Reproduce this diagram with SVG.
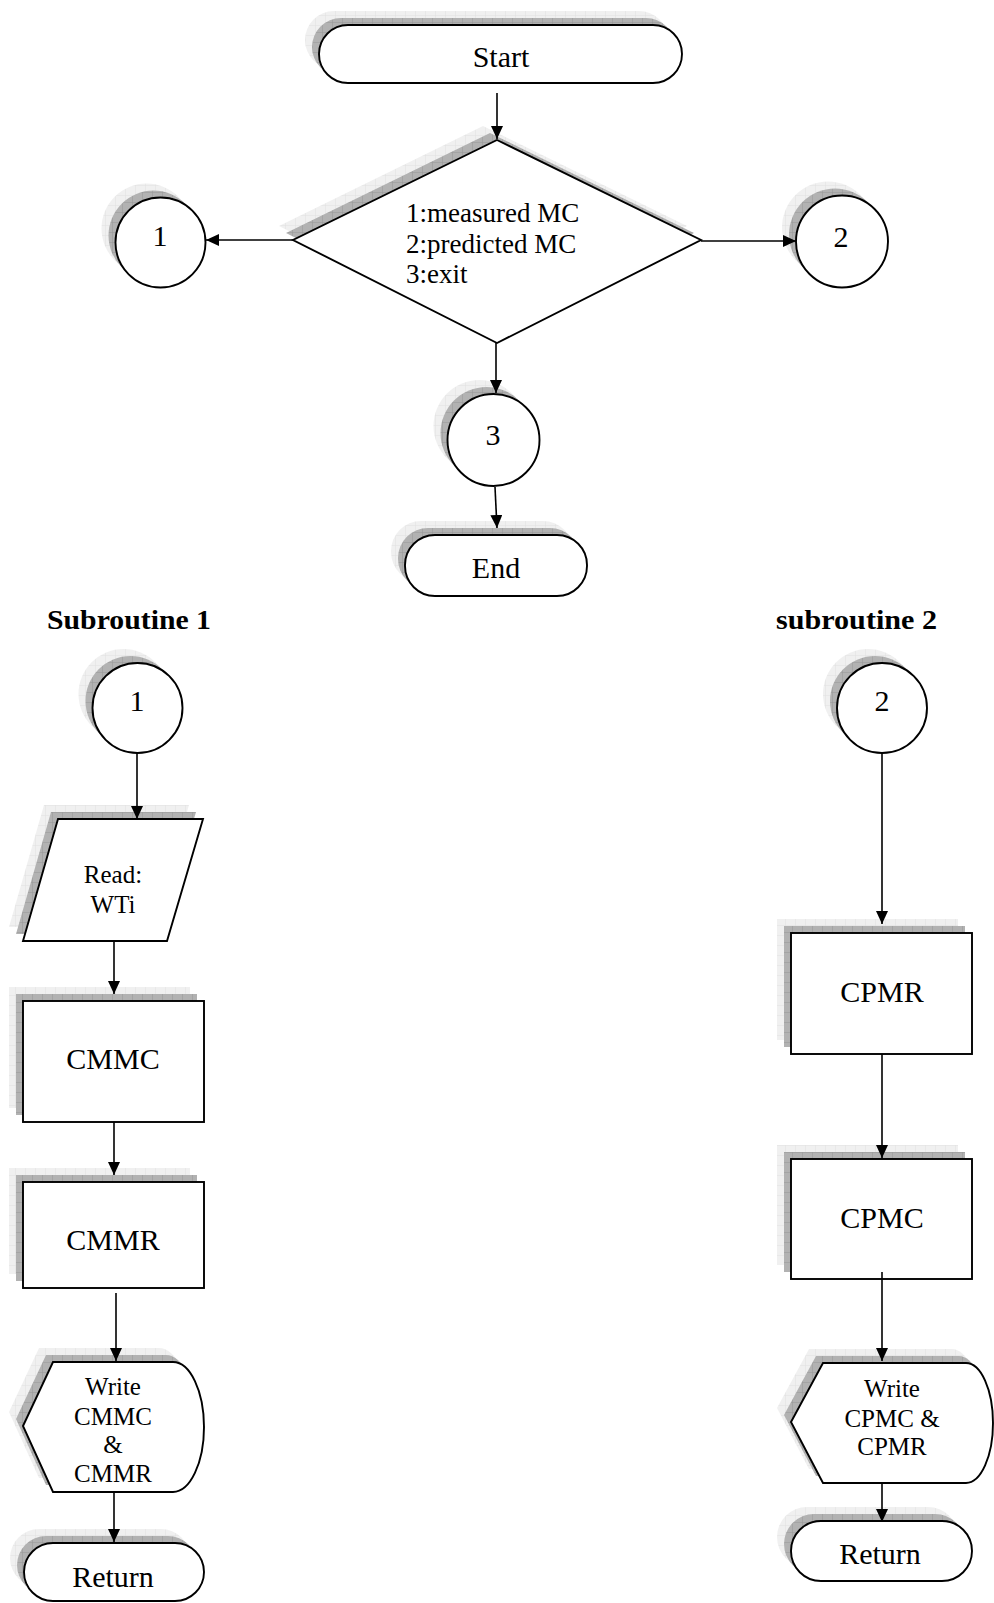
<svg xmlns="http://www.w3.org/2000/svg" xmlns:xlink="http://www.w3.org/1999/xlink" width="994" height="1603" viewBox="0 0 994 1603">
<defs>
<pattern id="pl" width="10" height="10" patternUnits="userSpaceOnUse"><rect width="10" height="10" fill="#f0f0f0"/><path d="M10 0V10H0" fill="none" stroke="#e0e0e0" stroke-width="1"/></pattern>
<pattern id="pd" width="10" height="10" patternUnits="userSpaceOnUse"><rect width="10" height="10" fill="#b2b2b2"/><path d="M10 0V10H0" fill="none" stroke="#979797" stroke-width="1"/></pattern>
<marker id="ah" markerWidth="13" markerHeight="12" refX="13" refY="6" orient="auto" markerUnits="userSpaceOnUse"><path d="M0,0 L13,6 L0,12 Z" fill="#000"/></marker>
<rect id="s-start" x="319" y="25" width="363" height="58" rx="29"/>
<polygon id="s-dec" points="497,140 701,240 497,343 293,240"/>
<circle id="s-c1" cx="160.5" cy="242.5" r="45"/>
<circle id="s-c2" cx="842" cy="241.5" r="46"/>
<circle id="s-c3" cx="493.5" cy="440" r="46"/>
<rect id="s-end" x="405" y="535" width="182" height="61" rx="30"/>
<circle id="s-s1" cx="137.5" cy="708" r="45"/>
<polygon id="s-read" points="58,819 203,819 167,941 23,941"/>
<rect id="s-cmmc" x="23" y="1001" width="181" height="121"/>
<rect id="s-cmmr" x="23" y="1182" width="181" height="106"/>
<path id="s-w1" d="M23,1426 L53,1362 L173,1362 A31,65 0 0 1 173,1492 L53,1492 Z"/>
<rect id="s-r1" x="24" y="1543" width="180" height="58" rx="29"/>
<circle id="s-s2" cx="882" cy="708" r="45"/>
<rect id="s-cpmr" x="791" y="933" width="181" height="121"/>
<rect id="s-cpmc" x="791" y="1159" width="181" height="120"/>
<path id="s-w2" d="M791,1422 L823,1363 L966,1363 A27,60 0 0 1 966,1483 L823,1483 Z"/>
<rect id="s-r2" x="791" y="1521" width="181" height="60" rx="30"/>
</defs>
<style>
.sl{fill:url(#pl);stroke:none}
.sd{fill:url(#pd);stroke:none}
.sh{fill:#fff;stroke:#000;stroke-width:1.9}
.t{font-family:"Liberation Serif","Times New Roman",serif;fill:#000;text-anchor:middle}
.big{font-size:30px}
.mid{font-size:27px}
.sm{font-size:25px}
.hd{font-size:27px;font-weight:bold;text-anchor:start}
.conn line{stroke:#000;stroke-width:1.6;fill:none;marker-end:url(#ah)}
</style>
<rect width="994" height="1603" fill="#fff"/>

<g id="node-start">
<use xlink:href="#s-start" href="#s-start" class="sl" transform="translate(-14,-14)"/>
<use xlink:href="#s-start" href="#s-start" class="sd" transform="translate(-7,-7)"/>
<use xlink:href="#s-start" href="#s-start" class="sh"/>
<text class="t big" x="501" y="67">Start</text>
</g>

<g id="node-decision">
<use xlink:href="#s-dec" href="#s-dec" class="sl" transform="translate(-14,-14)"/>
<use xlink:href="#s-dec" href="#s-dec" class="sd" transform="translate(-7,-7)"/>
<use xlink:href="#s-dec" href="#s-dec" class="sh"/>
<text class="t mid" x="406" y="222" style="text-anchor:start">1:measured MC</text>
<text class="t mid" x="406" y="253" style="text-anchor:start">2:predicted MC</text>
<text class="t mid" x="406" y="283" style="text-anchor:start">3:exit</text>
</g>

<g id="node-c1">
<use xlink:href="#s-c1" href="#s-c1" class="sl" transform="translate(-14,-14)"/>
<use xlink:href="#s-c1" href="#s-c1" class="sd" transform="translate(-7,-7)"/>
<use xlink:href="#s-c1" href="#s-c1" class="sh"/>
<text class="t big" x="160" y="246">1</text>
</g>

<g id="node-c2">
<use xlink:href="#s-c2" href="#s-c2" class="sl" transform="translate(-14,-14)"/>
<use xlink:href="#s-c2" href="#s-c2" class="sd" transform="translate(-7,-7)"/>
<use xlink:href="#s-c2" href="#s-c2" class="sh"/>
<text class="t big" x="841" y="247">2</text>
</g>

<g id="node-c3">
<use xlink:href="#s-c3" href="#s-c3" class="sl" transform="translate(-14,-14)"/>
<use xlink:href="#s-c3" href="#s-c3" class="sd" transform="translate(-7,-7)"/>
<use xlink:href="#s-c3" href="#s-c3" class="sh"/>
<text class="t big" x="493" y="445">3</text>
</g>

<g id="node-end">
<use xlink:href="#s-end" href="#s-end" class="sl" transform="translate(-14,-14)"/>
<use xlink:href="#s-end" href="#s-end" class="sd" transform="translate(-7,-7)"/>
<use xlink:href="#s-end" href="#s-end" class="sh"/>
<text class="t big" x="496" y="578">End</text>
</g>

<g id="heading-1">
<text class="t hd" x="47" y="629" textLength="164" lengthAdjust="spacingAndGlyphs">Subroutine 1</text>
</g>
<g id="heading-2">
<text class="t hd" x="776" y="629" textLength="161" lengthAdjust="spacingAndGlyphs">subroutine 2</text>
</g>

<g id="node-s1">
<use xlink:href="#s-s1" href="#s-s1" class="sl" transform="translate(-14,-14)"/>
<use xlink:href="#s-s1" href="#s-s1" class="sd" transform="translate(-7,-7)"/>
<use xlink:href="#s-s1" href="#s-s1" class="sh"/>
<text class="t big" x="137" y="711">1</text>
</g>

<g id="node-read">
<use xlink:href="#s-read" href="#s-read" class="sl" transform="translate(-14,-14)"/>
<use xlink:href="#s-read" href="#s-read" class="sd" transform="translate(-7,-7)"/>
<use xlink:href="#s-read" href="#s-read" class="sh"/>
<text class="t sm" x="113" y="883">Read:</text>
<text class="t sm" x="113" y="913">WTi</text>
</g>

<g id="node-cmmc">
<use xlink:href="#s-cmmc" href="#s-cmmc" class="sl" transform="translate(-14,-14)"/>
<use xlink:href="#s-cmmc" href="#s-cmmc" class="sd" transform="translate(-7,-7)"/>
<use xlink:href="#s-cmmc" href="#s-cmmc" class="sh"/>
<text class="t big" x="113" y="1069">CMMC</text>
</g>

<g id="node-cmmr">
<use xlink:href="#s-cmmr" href="#s-cmmr" class="sl" transform="translate(-14,-14)"/>
<use xlink:href="#s-cmmr" href="#s-cmmr" class="sd" transform="translate(-7,-7)"/>
<use xlink:href="#s-cmmr" href="#s-cmmr" class="sh"/>
<text class="t big" x="113" y="1250">CMMR</text>
</g>

<g id="node-write1">
<use xlink:href="#s-w1" href="#s-w1" class="sl" transform="translate(-14,-14)"/>
<use xlink:href="#s-w1" href="#s-w1" class="sd" transform="translate(-7,-7)"/>
<use xlink:href="#s-w1" href="#s-w1" class="sh"/>
<text class="t sm" x="113" y="1395">Write</text>
<text class="t sm" x="113" y="1425">CMMC</text>
<text class="t sm" x="113" y="1453">&amp;</text>
<text class="t sm" x="113" y="1482">CMMR</text>
</g>

<g id="node-return1">
<use xlink:href="#s-r1" href="#s-r1" class="sl" transform="translate(-14,-14)"/>
<use xlink:href="#s-r1" href="#s-r1" class="sd" transform="translate(-7,-7)"/>
<use xlink:href="#s-r1" href="#s-r1" class="sh"/>
<text class="t big" x="113" y="1587">Return</text>
</g>

<g id="node-s2">
<use xlink:href="#s-s2" href="#s-s2" class="sl" transform="translate(-14,-14)"/>
<use xlink:href="#s-s2" href="#s-s2" class="sd" transform="translate(-7,-7)"/>
<use xlink:href="#s-s2" href="#s-s2" class="sh"/>
<text class="t big" x="882" y="711">2</text>
</g>

<g id="node-cpmr">
<use xlink:href="#s-cpmr" href="#s-cpmr" class="sl" transform="translate(-14,-14)"/>
<use xlink:href="#s-cpmr" href="#s-cpmr" class="sd" transform="translate(-7,-7)"/>
<use xlink:href="#s-cpmr" href="#s-cpmr" class="sh"/>
<text class="t big" x="882" y="1002">CPMR</text>
</g>

<g id="node-cpmc">
<use xlink:href="#s-cpmc" href="#s-cpmc" class="sl" transform="translate(-14,-14)"/>
<use xlink:href="#s-cpmc" href="#s-cpmc" class="sd" transform="translate(-7,-7)"/>
<use xlink:href="#s-cpmc" href="#s-cpmc" class="sh"/>
<text class="t big" x="882" y="1228">CPMC</text>
</g>

<g id="node-write2">
<use xlink:href="#s-w2" href="#s-w2" class="sl" transform="translate(-14,-14)"/>
<use xlink:href="#s-w2" href="#s-w2" class="sd" transform="translate(-7,-7)"/>
<use xlink:href="#s-w2" href="#s-w2" class="sh"/>
<text class="t sm" x="892" y="1397">Write</text>
<text class="t sm" x="892" y="1427">CPMC &amp;</text>
<text class="t sm" x="892" y="1455">CPMR</text>
</g>

<g id="node-return2">
<use xlink:href="#s-r2" href="#s-r2" class="sl" transform="translate(-14,-14)"/>
<use xlink:href="#s-r2" href="#s-r2" class="sd" transform="translate(-7,-7)"/>
<use xlink:href="#s-r2" href="#s-r2" class="sh"/>
<text class="t big" x="880" y="1564">Return</text>
</g>

<g id="connectors" class="conn">
<line x1="497" y1="93" x2="497" y2="139"/>
<line x1="293" y1="240" x2="206" y2="240"/>
<line x1="701" y1="241" x2="796" y2="241"/>
<line x1="496" y1="343" x2="496" y2="393"/>
<line x1="495" y1="487" x2="497" y2="528"/>
<line x1="137" y1="753" x2="137" y2="819"/>
<line x1="114" y1="941" x2="114" y2="994"/>
<line x1="114" y1="1122" x2="114" y2="1175"/>
<line x1="116" y1="1293" x2="116" y2="1361"/>
<line x1="114" y1="1492" x2="114" y2="1542"/>
<line x1="882" y1="753" x2="882" y2="924"/>
<line x1="882" y1="1054" x2="882" y2="1158"/>
<line x1="882" y1="1272" x2="882" y2="1361"/>
<line x1="882" y1="1483" x2="882" y2="1522"/>
</g>
</svg>
